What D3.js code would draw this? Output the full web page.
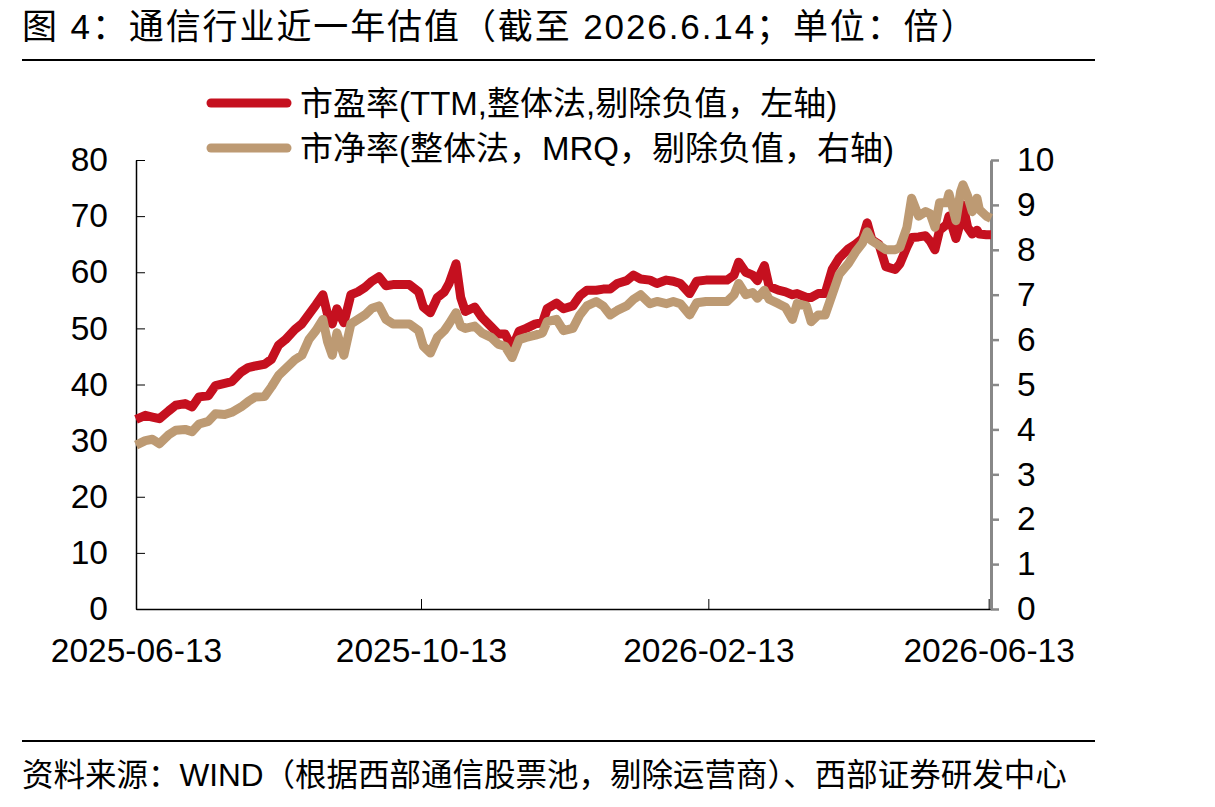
<!DOCTYPE html>
<html>
<head>
<meta charset="utf-8">
<script src="https://cdn.jsdelivr.net/npm/d3@7"></script>
<style>
  body { margin: 0; background: #fff; }
  text { font-family: "Liberation Sans", Arial, "Noto Sans CJK SC", sans-serif; fill: #000; }
  .cjk { font-family: "Liberation Sans", "Noto Sans CJK SC", sans-serif; }
</style>
</head>
<body>
<div id="chart"></div>
<script>
// trading dates
var dates = [
  "2025-06-13","2025-06-17","2025-06-20","2025-06-23","2025-06-27","2025-06-30",
  "2025-07-04","2025-07-07","2025-07-10","2025-07-14","2025-07-17","2025-07-21",
  "2025-07-24","2025-07-28","2025-07-31","2025-08-03","2025-08-07","2025-08-10",
  "2025-08-13","2025-08-16","2025-08-20","2025-08-23","2025-08-26","2025-08-29",
  "2025-09-01","2025-09-03","2025-09-05","2025-09-07","2025-09-10","2025-09-13",
  "2025-09-16","2025-09-19","2025-09-22","2025-09-25","2025-09-28","2025-10-01",
  "2025-10-05","2025-10-08","2025-10-12","2025-10-14","2025-10-17","2025-10-20",
  "2025-10-23","2025-10-25","2025-10-28","2025-10-30","2025-11-01","2025-11-05",
  "2025-11-08","2025-11-12","2025-11-15","2025-11-18","2025-11-21","2025-11-24",
  "2025-11-27","2025-12-01","2025-12-04","2025-12-06","2025-12-10","2025-12-13",
  "2025-12-17","2025-12-20","2025-12-23","2025-12-27","2025-12-30","2026-01-02",
  "2026-01-05","2026-01-09","2026-01-12","2026-01-15","2026-01-19","2026-01-22",
  "2026-01-26","2026-01-29","2026-02-01","2026-02-05","2026-02-08","2026-02-12",
  "2026-02-16","2026-02-21","2026-02-24","2026-02-26","2026-03-01","2026-03-04",
  "2026-03-06","2026-03-09","2026-03-11","2026-03-15","2026-03-18","2026-03-21",
  "2026-03-23","2026-03-27","2026-03-29","2026-04-01","2026-04-04","2026-04-07",
  "2026-04-10","2026-04-14","2026-04-17","2026-04-20","2026-04-22","2026-04-24",
  "2026-04-27","2026-04-30","2026-05-04","2026-05-06","2026-05-09","2026-05-11",
  "2026-05-14","2026-05-17","2026-05-19","2026-05-21","2026-05-23","2026-05-26",
  "2026-05-27","2026-05-30","2026-06-01","2026-06-02","2026-06-04","2026-06-06",
  "2026-06-08","2026-06-09","2026-06-12","2026-06-14"
];

// PE (TTM), left axis
var peValues = [
  33.8,34.5,34.2,33.9,35.3,36.3,
  36.6,36.0,37.8,38.0,39.8,40.2,
  40.5,42.2,43.0,43.3,43.6,44.5,
  47.0,48.0,49.8,50.8,52.5,54.2,
  56.0,52.5,50.8,53.5,51.0,56.0,
  56.5,57.3,58.4,59.2,57.6,57.8,
  57.8,57.8,56.5,53.8,52.8,55.5,
  56.5,58.0,61.5,55.5,53.0,53.8,
  52.0,50.3,49.0,49.0,46.5,49.5,
  50.0,50.8,51.0,53.5,54.5,53.5,
  54.0,55.8,56.8,56.8,57.0,57.0,
  58.0,58.5,59.5,58.8,58.6,58.0,
  58.6,58.4,58.0,56.2,58.4,58.6,
  58.6,58.6,59.5,61.8,60.0,59.5,
  58.5,61.2,57.5,56.8,56.5,56.0,
  56.2,55.5,55.5,56.2,56.2,60.5,
  62.5,64.2,65.0,66.0,68.8,65.8,
  65.0,61.0,60.5,61.5,64.5,66.2,
  66.3,66.5,65.5,64.0,67.5,68.5,
  70.0,66.0,69.0,72.0,68.0,66.8,
  67.5,66.8,66.7,66.7
];

// PB (MRQ), right axis
var pbValues = [
  3.65,3.75,3.78,3.68,3.88,3.98,
  4.00,3.95,4.12,4.18,4.35,4.33,
  4.38,4.50,4.62,4.72,4.73,4.95,
  5.20,5.35,5.55,5.65,6.00,6.20,
  6.45,5.95,5.65,6.15,5.65,6.35,
  6.45,6.55,6.70,6.75,6.45,6.35,
  6.35,6.35,6.20,5.85,5.70,6.05,
  6.20,6.35,6.60,6.30,6.25,6.30,
  6.15,6.05,5.90,5.85,5.60,6.00,
  6.05,6.10,6.15,6.40,6.45,6.20,
  6.25,6.55,6.75,6.85,6.75,6.55,
  6.65,6.75,6.90,7.00,6.80,6.85,
  6.80,6.85,6.80,6.55,6.82,6.85,
  6.85,6.85,7.00,7.25,7.00,7.05,
  6.92,7.10,6.90,6.80,6.72,6.45,
  6.80,6.75,6.40,6.55,6.55,7.00,
  7.45,7.70,7.95,8.15,8.40,8.20,
  8.10,8.00,8.00,8.05,8.50,9.15,
  8.75,8.85,8.80,8.50,9.05,9.05,
  9.25,8.65,9.30,9.45,9.20,8.85,
  9.15,8.90,8.75,8.70
];

var xTicks = ["2025-06-13", "2025-10-13", "2026-02-13", "2026-06-13"];
var leftTicks = [0, 10, 20, 30, 40, 50, 60, 70, 80];
var rightTicks = [0, 1, 2, 3, 4, 5, 6, 7, 8, 9, 10];

var titleText = "图 4：通信行业近一年估值（截至 2026.6.14；单位：倍）";
var legendLabels = ["市盈率(TTM,整体法,剔除负值，左轴)", "市净率(整体法，MRQ，剔除负值，右轴)"];
var sourceText = "资料来源：WIND（根据西部通信股票池，剔除运营商）、西部证券研发中心";

var redColor = "#c5101f",
    tanColor = "#bd9a73";

var parse = d3.timeParse("%Y-%m-%d");

var width = 1215, height = 807;
var plot = {left: 136, right: 991, top: 160, bottom: 609};

var svg = d3.select("#chart").append("svg")
    .attr("width", width)
    .attr("height", height);

// scales
var x = d3.scaleTime()
    .domain([parse("2025-06-13"), parse("2026-06-14")])
    .range([plot.left, plot.right]);
var yLeft = d3.scaleLinear().domain([0, 80]).range([plot.bottom, plot.top]);
var yRight = d3.scaleLinear().domain([0, 10]).range([plot.bottom, plot.top]);

// title and rules
svg.append("text")
    .attr("class", "cjk")
    .attr("x", 22)
    .attr("y", 39)
    .style("font-size", "35px")
    .style("letter-spacing", "1.9px")
    .text(titleText);

svg.append("line")
    .attr("x1", 22).attr("x2", 1095)
    .attr("y1", 60).attr("y2", 60)
    .attr("stroke", "#000").attr("stroke-width", 2);

svg.append("line")
    .attr("x1", 22).attr("x2", 1095)
    .attr("y1", 741).attr("y2", 741)
    .attr("stroke", "#000").attr("stroke-width", 2);

svg.append("text")
    .attr("class", "cjk")
    .attr("x", 22)
    .attr("y", 786)
    .style("font-size", "31.5px")
    .text(sourceText);

// legend
var legend = svg.append("g");
[redColor, tanColor].forEach(function(c, i) {
  var ly = 103 + i * 45;
  legend.append("line")
      .attr("x1", 211).attr("x2", 287)
      .attr("y1", ly).attr("y2", ly)
      .attr("stroke", c)
      .attr("stroke-width", 9)
      .attr("stroke-linecap", "round");
  legend.append("text")
      .attr("class", "cjk")
      .attr("x", 300)
      .attr("y", ly + 12)
      .style("font-size", "33px")
      .text(legendLabels[i]);
});

// axes
var xAxis = svg.append("g")
    .attr("transform", "translate(0," + plot.bottom + ")")
    .call(d3.axisBottom(x)
      .tickValues(xTicks.map(parse))
      .tickSize(-10)
      .tickSizeOuter(0)
      .tickPadding(29)
      .tickFormat(d3.timeFormat("%Y-%m-%d")));

var leftAxis = svg.append("g")
    .attr("transform", "translate(" + plot.left + ",0)")
    .call(d3.axisLeft(yLeft)
      .tickValues(leftTicks)
      .tickSize(-9)
      .tickSizeOuter(0)
      .tickPadding(28));

var rightAxis = svg.append("g")
    .attr("transform", "translate(" + plot.right + ",0)")
    .call(d3.axisRight(yRight)
      .tickValues(rightTicks)
      .tickSize(8)
      .tickSizeOuter(0)
      .tickPadding(18));

[xAxis, leftAxis].forEach(function(a) {
  a.select(".domain").attr("stroke", "#000").attr("stroke-width", 1.5);
  a.selectAll(".tick line").attr("stroke", "#000").attr("stroke-width", 1);
});
rightAxis.select(".domain").attr("stroke", "#888").attr("stroke-width", 3);
rightAxis.selectAll(".tick line").attr("stroke", "#888").attr("stroke-width", 2.5);

svg.selectAll(".tick text")
    .attr("fill", "#000")
    .style("font-family", "'Liberation Sans', Arial, sans-serif")
    .style("font-size", "33.5px");

// lines
var peData = dates.map(function(d, i) { return {date: parse(d), value: peValues[i]}; });
var pbData = dates.map(function(d, i) { return {date: parse(d), value: pbValues[i]}; });

var peLine = d3.line()
    .x(function(d) { return x(d.date); })
    .y(function(d) { return yLeft(d.value); });
var pbLine = d3.line()
    .x(function(d) { return x(d.date); })
    .y(function(d) { return yRight(d.value); });

svg.append("path")
    .datum(peData)
    .attr("d", peLine)
    .attr("fill", "none")
    .attr("stroke", redColor)
    .attr("stroke-width", 9)
    .attr("stroke-linejoin", "round");

svg.append("path")
    .datum(pbData)
    .attr("d", pbLine)
    .attr("fill", "none")
    .attr("stroke", tanColor)
    .attr("stroke-width", 9)
    .attr("stroke-linejoin", "round");
</script>
</body>
</html>
